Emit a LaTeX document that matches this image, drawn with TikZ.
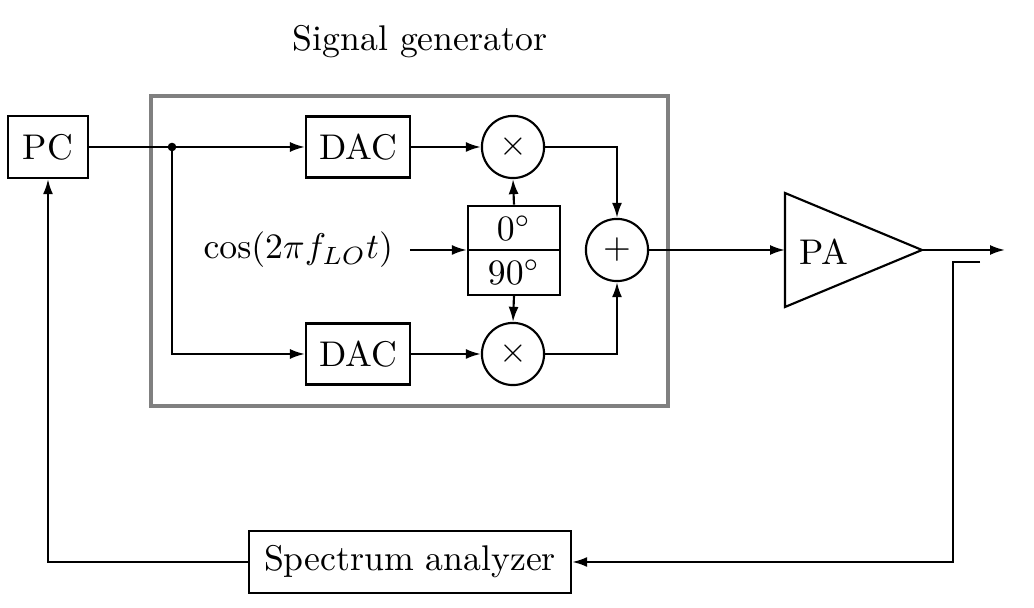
\documentclass[tikz,border=0pt]{standalone}
\usetikzlibrary{arrows.meta}
\begin{document}
\begin{tikzpicture}[x=0.28pt,y=-0.28pt,line width=0.6pt,
  arr/.style={-{Latex[length=4.2pt,width=2.8pt]}},
  blk/.style={draw,rectangle,inner sep=0pt},
  mix/.style={draw,circle,minimum size=17.4pt,inner sep=0pt},
  frame/.style={draw=black!50,line width=1pt}]
\useasboundingbox (0,0) rectangle (1034,608);
% frame
\draw[frame] (151,96) rectangle (668,406);
\node (title) at (420,42) {Signal generator};
% blocks
\node[blk,minimum width=22.4pt,minimum height=17.4pt] (pc) at (48,147) {PC};
\node[blk,minimum width=29.1pt,minimum height=17.1pt] (dac1) at (358,147) {DAC};
\node[blk,minimum width=29.1pt,minimum height=17.1pt] (dac2) at (358,354) {DAC};
\node[mix] (m1) at (513,147) {$\times$};
\node[mix] (m2) at (513,354) {$\times$};
\node[blk,minimum width=25.8pt,minimum height=12.45pt] (sp0) at (514,228) {$0^\circ$};
\node[blk,minimum width=25.8pt,minimum height=12.45pt] (sp90) at (514,272.5) {$90^\circ$};
\node[anchor=east,inner sep=0pt] (cos) at (394,250) {$\cos(2\pi f_{LO}t)$};
\coordinate (cosout) at (410,250);
\node[mix] (add) at (617,250) {$+$};
\node[blk,minimum width=90.2pt,minimum height=17.4pt] (sa) at (410,562) {Spectrum analyzer};
% PA
\coordinate (pain) at (785,250);
\coordinate (paout) at (922,250);
\draw (785,193) -- (paout) -- (785,307) -- cycle;
\node (pa) at (824,252) {PA};
\coordinate (outend) at (1005,250);
\coordinate (cplend) at (980,262);
\coordinate (cpl) at (953,262);
\coordinate (dot) at (172,147);
% connectors
\draw (pc.east) -- (dot);
\fill (dot) circle (1.2pt);
\draw[arr] (dot) -- (dac1.west);
\draw[arr] (dot) |- (dac2.west);
\draw[arr] (dac1) -- (m1);
\draw[arr] (dac2) -- (m2);
\draw[arr] (cosout) -- (cosout -| sp0.west);
\draw[arr] (sp0.north) -- (m1.south);
\draw[arr] (sp90.south) -- (m2.north);
\draw[arr] (m1.east) -| (add.north);
\draw[arr] (m2.east) -| (add.south);
\draw[arr] (add.east) -- (pain);
\draw[arr] (paout) -- (outend);
\draw[arr] (cplend) -- (cpl) |- (sa.east);
\draw[arr] (sa.west) -| (pc.south);
\end{tikzpicture}
\end{document}
